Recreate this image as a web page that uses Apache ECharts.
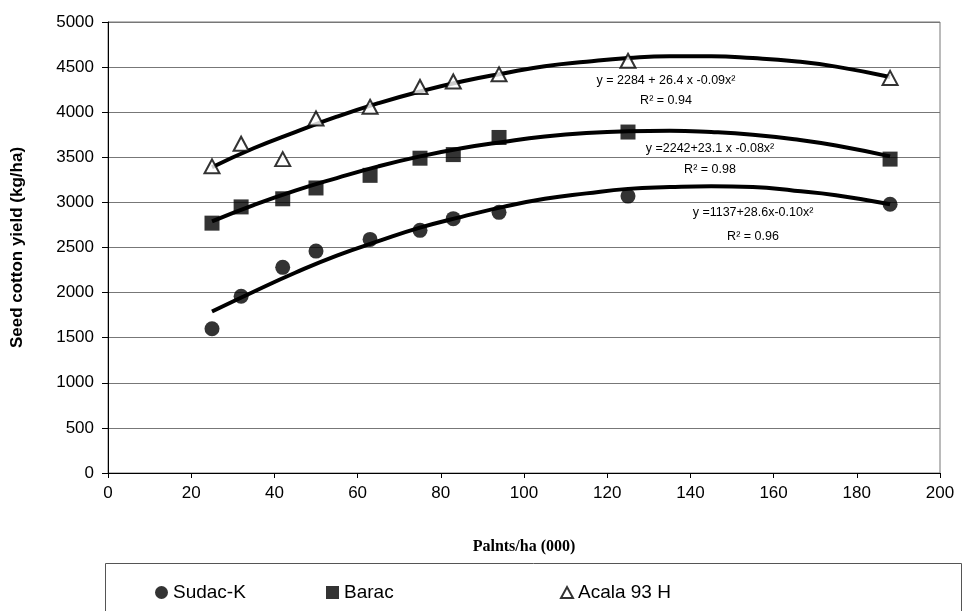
<!DOCTYPE html>
<html>
<head>
<meta charset="utf-8">
<script src="https://cdn.jsdelivr.net/npm/echarts@6/dist/echarts.min.js"></script>
<style>
  html, body { margin: 0; padding: 0; background: #fff; }
  #panel { width: 966px; height: 611px; }
</style>
</head>
<body>
<div id="panel"></div>
<script>
  // plant density (000/ha) where yields were measured
  const plants = [25, 32, 42, 50, 63, 75, 83, 94, 125, 188];
  const sudacK = [1600, 1960, 2280, 2460, 2590, 2690, 2820, 2890, 3070, 2980];
  const barac = [2770, 2950, 3040, 3160, 3300, 3490, 3530, 3720, 3780, 3480];
  const acala = [3400, 3650, 3480, 3930, 4060, 4280, 4340, 4420, 4570, 4380];

  // trend curves
  const trendX = [25, 35, 45, 55, 65, 75, 85, 95, 105, 115, 125, 135, 145, 155, 165, 175, 188];
  const sudacTrend = [1790, 2010, 2220, 2410, 2570, 2720, 2840, 2950, 3040, 3100, 3150, 3170, 3180, 3170, 3130, 3080, 2980];
  const baracTrend = [2790, 2970, 3130, 3270, 3400, 3510, 3600, 3670, 3730, 3770, 3790, 3795, 3780, 3750, 3700, 3630, 3510];
  const acalaTrend = [3390, 3600, 3780, 3950, 4100, 4230, 4340, 4430, 4510, 4560, 4600, 4620, 4620, 4600, 4565, 4505, 4390];

  const seriesNames = ['Sudac-K', 'Barac', 'Acala 93 H'];
  const equations = [
    'y =1137+28.6x-0.10x²',
    'y =2242+23.1 x -0.08x²',
    'y = 2284 + 26.4 x -0.09x²'
  ];
  const rSquared = ['R² = 0.96', 'R² = 0.98', 'R² = 0.94'];

  const pairs = (xs, ys) => xs.map((x, i) => [x, ys[i]]);
  const font = "'Liberation Sans', Arial, sans-serif";

  let panel = echarts.init(document.getElementById('panel'));

  // where the equation texts sit (pixel centres)
  const eqPos = [[753, 213, 237], [710, 149, 170], [666, 81, 101]];
  let notes = [];
  eqPos.forEach((p, i) => {
    notes.push({ type: 'text', x: p[0], y: p[1], style: { text: equations[i], fill: '#000', font: '12.5px ' + font, align: 'center', verticalAlign: 'middle' } });
    notes.push({ type: 'text', x: p[0], y: p[2], style: { text: rSquared[i], fill: '#000', font: '12.5px ' + font, align: 'center', verticalAlign: 'middle' } });
  });
  // box round the legend
  notes.push({ type: 'rect', shape: { x: 105.5, y: 563.5, width: 856, height: 70 }, style: { fill: 'none', stroke: '#555', lineWidth: 1 }, z: 0 });

  const legendText = { fontFamily: font, fontSize: 19, color: '#000' };

  let option = {
    animation: false,
    backgroundColor: '#fff',
    grid: {
      left: 108, right: 26, top: 22, bottom: 138,
      show: true, borderColor: '#777', borderWidth: 1
    },
    legend: [
      { data: [seriesNames[0]], left: 150, top: 578, itemWidth: 13, itemHeight: 13, itemGap: 0, textStyle: legendText },
      { data: [seriesNames[1]], left: 321, top: 578, itemWidth: 13, itemHeight: 13, itemGap: 0, textStyle: legendText },
      { data: [seriesNames[2]], left: 555, top: 578, itemWidth: 12, itemHeight: 11, itemGap: 0, textStyle: legendText }
    ],
    xAxis: {
      type: 'value', min: 0, max: 200, interval: 20,
      name: 'Palnts/ha (000)', nameLocation: 'middle', nameGap: 66,
      nameTextStyle: { fontFamily: "'Liberation Serif', 'Times New Roman', serif", fontWeight: 'bold', fontSize: 16, color: '#000' },
      axisLine: { lineStyle: { color: '#000', width: 1 } },
      axisTick: { show: true, length: 5, lineStyle: { color: '#000' } },
      axisLabel: { fontFamily: font, fontSize: 17, color: '#000', margin: 12 },
      splitLine: { show: false }
    },
    yAxis: {
      type: 'value', min: 0, max: 5000, interval: 500,
      name: 'Seed cotton yield (kg/ha)', nameLocation: 'middle', nameGap: 82,
      nameTextStyle: { fontFamily: font, fontWeight: 'bold', fontSize: 17, color: '#000' },
      axisLine: { show: true, lineStyle: { color: '#000', width: 1 } },
      axisTick: { show: true, length: 6, lineStyle: { color: '#000' } },
      axisLabel: { fontFamily: font, fontSize: 17, color: '#000', margin: 14, formatter: v => String(v) },
      splitLine: { show: true, lineStyle: { color: '#777', width: 1 } }
    },
    graphic: notes,
    series: [
      {
        name: 'Sudac-K trend', type: 'line', smooth: true, showSymbol: false, z: 2,
        lineStyle: { color: '#000', width: 4 }, data: pairs(trendX, sudacTrend)
      },
      {
        name: 'Barac trend', type: 'line', smooth: true, showSymbol: false, z: 2,
        lineStyle: { color: '#000', width: 4 }, data: pairs(trendX, baracTrend)
      },
      {
        name: 'Acala trend', type: 'line', smooth: true, showSymbol: false, z: 2,
        lineStyle: { color: '#000', width: 4 }, data: pairs(trendX, acalaTrend)
      },
      {
        name: seriesNames[0], type: 'scatter', symbol: 'circle', symbolSize: 15, z: 5,
        itemStyle: { color: '#000' }, data: pairs(plants, sudacK)
      },
      {
        name: seriesNames[1], type: 'scatter', symbol: 'rect', symbolSize: 15, z: 5,
        itemStyle: { color: '#000' }, data: pairs(plants, barac)
      },
      {
        name: seriesNames[2], type: 'scatter', symbol: 'triangle', symbolSize: [15, 14], z: 5,
        itemStyle: { color: '#fff', borderColor: '#000', borderWidth: 2 }, data: pairs(plants, acala)
      }
    ]
  };
  panel.setOption(option, true);
</script>
</body>
</html>
